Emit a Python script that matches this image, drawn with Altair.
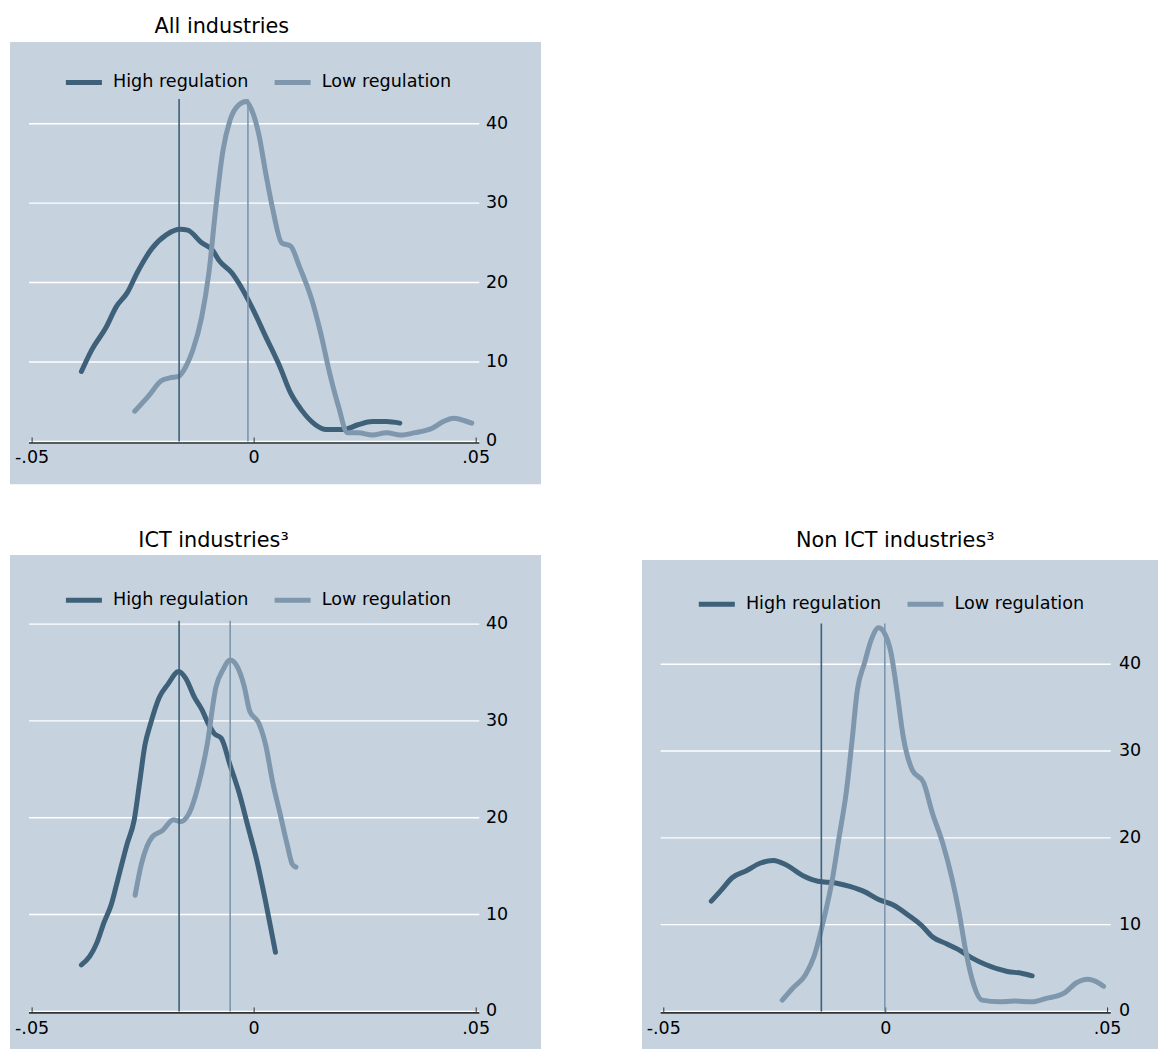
import altair as alt
import pandas as pd

# ---------------- data ----------------
SERIES = ["High regulation", "Low regulation"]

ALL_HIGH_X = [-0.0389, -0.0366, -0.0334, -0.0310, -0.0286, -0.0262, -0.0230, -0.0198, -0.0166, -0.0150,
              -0.0118, -0.0094, -0.0078, -0.0050, -0.0030, -0.0006, 0.0026, 0.0058, 0.0082, 0.0106,
              0.0138, 0.0162, 0.0202, 0.0234, 0.0266, 0.0298, 0.0328]
ALL_HIGH_Y = [8.8, 11.5, 14.3, 17.0, 18.7, 21.4, 24.3, 26.0, 26.7, 26.6,
              25.0, 24.1, 22.7, 21.2, 19.5, 17.0, 13.2, 9.4, 6.1, 4.0,
              2.1, 1.5, 1.5, 2.1, 2.5, 2.5, 2.3]
ALL_LOW_X = [-0.0269, -0.0238, -0.0210, -0.0190, -0.0170, -0.0154, -0.0138, -0.0118, -0.0102, -0.0086,
             -0.0070, -0.0054, -0.0034, -0.0018, -0.0006, 0.0010, 0.0026, 0.0042, 0.0062, 0.0082,
             0.0102, 0.0130, 0.0150, 0.0170, 0.0190, 0.0210, 0.0234, 0.0266, 0.0298, 0.0330,
             0.0362, 0.0402, 0.0426, 0.0450, 0.0474, 0.0490]
ALL_LOW_Y = [3.8, 5.7, 7.6, 8.0, 8.2, 9.4, 11.5, 15.7, 21.2, 29.6,
             36.7, 40.5, 42.4, 42.8, 41.8, 38.8, 33.8, 29.2, 25.0, 24.6,
             22.0, 17.8, 13.6, 8.6, 4.4, 1.1, 1.1, 0.8, 1.1, 0.8,
             1.1, 1.7, 2.5, 2.9, 2.6, 2.3]
ALL_VLINES = [-0.0169, -0.0014]

ICT_HIGH_X = [-0.0389, -0.0370, -0.0354, -0.0338, -0.0322, -0.0306, -0.0286, -0.0270, -0.0258, -0.0246,
              -0.0234, -0.0214, -0.0194, -0.0170, -0.0154, -0.0134, -0.0118, -0.0102, -0.0090, -0.0074,
              -0.0054, -0.0034, -0.0014, 0.0006, 0.0026, 0.0048]
ICT_HIGH_Y = [4.8, 5.7, 7.1, 9.2, 11.0, 13.8, 17.3, 19.8, 23.6, 27.5,
              29.6, 32.4, 33.8, 35.1, 34.4, 32.4, 31.2, 29.6, 28.7, 28.2,
              25.4, 22.6, 19.1, 15.6, 11.3, 6.1]
ICT_LOW_X = [-0.0268, -0.0254, -0.0230, -0.0206, -0.0182, -0.0166, -0.0146, -0.0126, -0.0106, -0.0086,
             -0.0070, -0.0054, -0.0038, -0.0022, -0.0010, 0.0010, 0.0026, 0.0042, 0.0058, 0.0074,
             0.0086, 0.0094]
ICT_LOW_Y = [12.0, 15.2, 18.0, 18.7, 19.8, 19.6, 20.5, 23.3, 27.5, 33.5,
             35.3, 36.3, 35.6, 33.5, 31.0, 29.8, 27.5, 23.6, 20.5, 17.3,
             15.2, 14.9]
ICT_VLINES = [-0.0169, -0.0054]

NON_HIGH_X = [-0.0393, -0.0370, -0.0346, -0.0314, -0.0282, -0.0253, -0.0225, -0.0185, -0.0153, -0.0113,
              -0.0081, -0.0048, -0.0016, 0.0016, 0.0056, 0.0081, 0.0105, 0.0137, 0.0161, 0.0193,
              0.0225, 0.0274, 0.0306, 0.0330]
NON_HIGH_Y = [12.7, 14.0, 15.4, 16.2, 17.1, 17.4, 16.9, 15.6, 15.0, 14.8,
              14.4, 13.8, 12.9, 12.3, 10.9, 9.9, 8.6, 7.8, 7.2, 6.2,
              5.4, 4.6, 4.4, 4.1]
NON_LOW_X = [-0.0233, -0.0209, -0.0181, -0.0161, -0.0141, -0.0121, -0.0105, -0.0089, -0.0076, -0.0064,
             -0.0048, -0.0032, -0.0016, 0.0000, 0.0012, 0.0024, 0.0040, 0.0060, 0.0085, 0.0105,
             0.0129, 0.0149, 0.0165, 0.0181, 0.0197, 0.0217, 0.0257, 0.0290, 0.0330, 0.0362,
             0.0402, 0.0430, 0.0455, 0.0479, 0.0491]
NON_LOW_Y = [1.3, 2.7, 4.2, 6.4, 10.3, 15.0, 20.1, 25.2, 31.1, 37.0,
             40.1, 42.9, 44.2, 43.3, 41.3, 37.4, 31.5, 27.8, 26.4, 22.9,
             19.3, 15.4, 11.5, 6.8, 3.3, 1.3, 1.1, 1.2, 1.1, 1.5,
             2.1, 3.3, 3.7, 3.3, 2.9]
NON_VLINES = [-0.0145, -0.0002]

TITLES = ["All industries", "ICT industries\u00b3", "Non ICT industries\u00b3"]
Y_MAX = [43.1, 40.35, 44.7]
X_TICKS = [-0.05, 0, 0.05]
X_TICK_LABELS = ["-.05", "0", ".05"]
Y_TICKS = [0, 10, 20, 30, 40]
Y_TICK_LABELS = ["0", "10", "20", "30", "40"]
X_DOMAIN = [-0.0507, 0.0507]

# ---------------- styles ----------------
COLORS = ["#3e6079", "#7e97ac"]
BG = "#c6d3df"
FONT = "DejaVu Sans"
AXIS_COLOR = "#333333"
TICK_FONT = 17.5

# geometry of each panel, in its own view coordinates
GEOM = [
    dict(W=531, H=442.3, bgtop=0, xr=[19, 469.3], y0=399.5, ytop=57.2, xaxis=401.1,
         ylab=476, xlab_base=20.0, lx=53.4, ly=19.8, tdx=-53.7, toff=-11.6, rect=False),
    dict(W=531, H=494, bgtop=0, xr=[19, 469.3], y0=456.5, ytop=65.8, xaxis=458,
         ylab=476, xlab_base=21.5, lx=53.4, ly=24.7, tdx=-62, toff=-12.5, rect=False),
    dict(W=516, H=494, bgtop=5, xr=[18.7, 468.7], y0=456.5, ytop=68.6, xaxis=458,
         ylab=477, xlab_base=21.5, lx=54.3, ly=28.7, tdx=-4.7, toff=-12.5, rect=True),
]


def make_panel(title, hx, hy, lx, ly, vlines, ymax, g):
    rows = [{"series": SERIES[0], "x": a, "y": b} for a, b in zip(hx, hy)]
    rows += [{"series": SERIES[1], "x": a, "y": b} for a, b in zip(lx, ly)]
    df = pd.DataFrame(rows)

    x_scale = alt.Scale(domain=X_DOMAIN, range=g["xr"], nice=False, zero=False)
    y_scale = alt.Scale(domain=[0, ymax], range=[g["y0"], g["ytop"]], nice=False, zero=False)
    X = lambda f: alt.X(f, scale=x_scale, axis=None)
    Y = lambda f: alt.Y(f, scale=y_scale, axis=None)

    layers = []
    if g["rect"]:
        one = pd.DataFrame({"k": [0]})
        layers.append(alt.Chart(one).mark_rect(color=BG).encode(
            x=alt.value(0), x2=alt.value(g["W"]), y=alt.value(g["bgtop"]), y2=alt.value(g["H"])
        ))
    # white horizontal grid lines at the y ticks
    layers.append(alt.Chart(pd.DataFrame({"y": Y_TICKS})).mark_rule(color="white", strokeWidth=1.4).encode(
        y=Y("y:Q"), x=alt.value(g["xr"][0]), x2=alt.value(g["xr"][1]),
    ))
    # x axis line and small ticks
    layers.append(alt.Chart(pd.DataFrame({"k": [0]})).mark_rule(color=AXIS_COLOR, strokeWidth=1.6).encode(
        y=alt.value(g["xaxis"]), x=alt.value(g["xr"][0]), x2=alt.value(g["xr"][1]),
    ))
    layers.append(alt.Chart(pd.DataFrame({"x": X_TICKS})).mark_rule(color=AXIS_COLOR, strokeWidth=1).encode(
        x=X("x:Q"), y=alt.value(g["xaxis"] - 5.5), y2=alt.value(g["xaxis"]),
    ))
    # tick labels
    layers.append(alt.Chart(pd.DataFrame({"x": X_TICKS, "t": X_TICK_LABELS})).mark_text(
        font=FONT, fontSize=TICK_FONT, color="black", align="center", baseline="alphabetic"
    ).encode(x=X("x:Q"), y=alt.value(g["xaxis"] + g["xlab_base"]), text="t:N"))
    layers.append(alt.Chart(pd.DataFrame({"y": Y_TICKS, "t": Y_TICK_LABELS})).mark_text(
        font=FONT, fontSize=TICK_FONT, color="black", align="left", baseline="middle"
    ).encode(y=Y("y:Q"), x=alt.value(g["ylab"]), text="t:N"))

    # density curves
    layers.append(alt.Chart(df).mark_line(strokeWidth=5, strokeCap="round", strokeJoin="round",
                                          interpolate="monotone").encode(
        x=X("x:Q"), y=Y("y:Q"),
        color=alt.Color("series:N", scale=alt.Scale(domain=SERIES, range=COLORS),
                        legend=alt.Legend(orient="none", legendX=g["lx"], legendY=g["ly"],
                                          direction="horizontal", title=None,
                                          symbolType="stroke", symbolSize=1296,
                                          symbolStrokeWidth=5, labelFont=FONT,
                                          labelFontSize=17.6, labelColor="black",
                                          labelOffset=8.6, columnPadding=15.7, padding=0)),
        detail="series:N",
    ))
    # vertical reference lines
    for v, c in zip(vlines, COLORS):
        vdf = pd.DataFrame({"x": [v], "y0": [0], "y1": [ymax]})
        layers.append(
            alt.Chart(vdf).mark_rule(color=c, strokeWidth=1.6).encode(
                x=X("x:Q"), y=Y("y0:Q"), y2="y1:Q",
            )
        )

    view = alt.ViewBackground(stroke=None) if g["rect"] else alt.ViewBackground(fill=BG, stroke=None)
    return alt.layer(*layers).properties(
        width=g["W"], height=g["H"], view=view,
        title=alt.TitleParams(title, anchor="middle", dx=g["tdx"], offset=g["toff"],
                              font=FONT, fontSize=20.8, fontWeight="normal",
                              color="black", baseline="alphabetic", frame="group"),
    )


p1 = make_panel(TITLES[0], ALL_HIGH_X, ALL_HIGH_Y, ALL_LOW_X, ALL_LOW_Y, ALL_VLINES, Y_MAX[0], GEOM[0])
p2 = make_panel(TITLES[1], ICT_HIGH_X, ICT_HIGH_Y, ICT_LOW_X, ICT_LOW_Y, ICT_VLINES, Y_MAX[1], GEOM[1])
p3 = make_panel(TITLES[2], NON_HIGH_X, NON_HIGH_Y, NON_LOW_X, NON_LOW_Y, NON_VLINES, Y_MAX[2], GEOM[2])

row2 = alt.hconcat(p2, p3, spacing=101).resolve_scale(
    x="independent", y="independent", color="independent"
).resolve_legend(color="independent")

chart = alt.vconcat(p1, row2, spacing=70, bounds="flush",
                    padding={"left": 10, "top": 14.9, "right": 0, "bottom": 0}).resolve_scale(
    x="independent", y="independent", color="independent"
).resolve_legend(color="independent").configure(background="white").configure_view(stroke=None)

chart.save("out.html", embed_options={"renderer": "svg", "actions": False})
